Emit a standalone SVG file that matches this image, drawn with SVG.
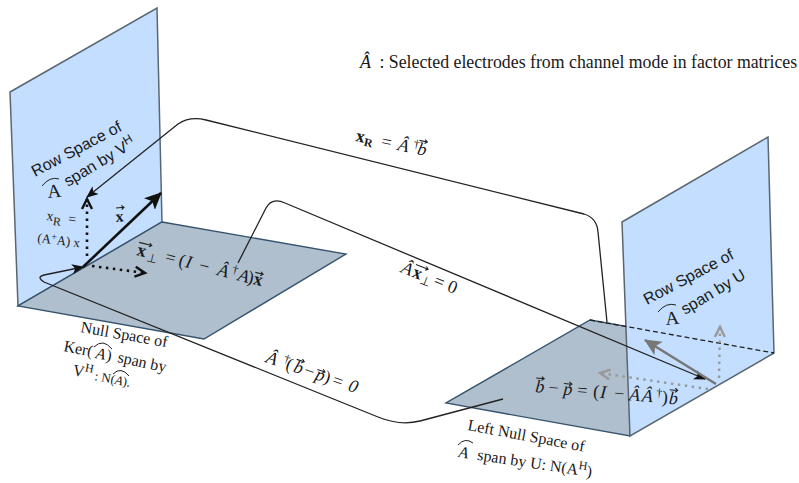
<svg xmlns="http://www.w3.org/2000/svg" width="799" height="483" viewBox="0 0 799 483">
<style>
text{fill:#1a1a1a}
.s{font-family:"Liberation Sans",Arial,sans-serif;font-size:16px}
.t{font-family:"Liberation Serif","Times New Roman",serif;font-size:16px}
.m{font-family:"Liberation Serif","Times New Roman",serif;font-size:18px;font-style:italic}
.b{font-weight:bold;font-style:normal}
.r{font-style:normal}
.sup{font-size:12px}
.sub{font-size:12px}
.wall{fill:#c3deff;stroke:#5a6670;stroke-width:1.5}
.floor{fill:#afbfcd;stroke:#35536e;stroke-width:1.4}
.c{fill:none;stroke:#222;stroke-width:1.3}
.acc{fill:none;stroke:#222;stroke-width:1}
.vec{fill:none;stroke:#222;stroke-width:1.1}
</style>
<defs>
<path id="v8" d="M0 0H8M5.5 -2L8 0L5.5 2"/>
<path id="v13" d="M0 0H13M10.5 -2L13 0L10.5 2"/>
<marker id="tip" markerWidth="12" markerHeight="10" refX="11" refY="5" orient="auto" markerUnits="userSpaceOnUse" viewBox="0 0 12 10"><path d="M0 0L12 5L0 10L3 5Z" fill="#111"/></marker>
<marker id="big" markerWidth="18" markerHeight="16" refX="16" refY="8" orient="auto" markerUnits="userSpaceOnUse" viewBox="0 0 18 16"><path d="M0 0L17 8L0 16L4 8Z" fill="#111"/></marker>
<marker id="gbig" markerWidth="18" markerHeight="16" refX="16" refY="8" orient="auto" markerUnits="userSpaceOnUse" viewBox="0 0 18 16"><path d="M0 0L17 8L0 16L4 8Z" fill="#777"/></marker>
<marker id="open" markerWidth="14" markerHeight="14" refX="11" refY="6" orient="auto" markerUnits="userSpaceOnUse" viewBox="0 0 14 12"><path d="M1 1L11 6L1 11" fill="none" stroke="#111" stroke-width="2.4"/></marker>
<marker id="gopen" markerWidth="14" markerHeight="14" refX="11" refY="6" orient="auto" markerUnits="userSpaceOnUse" viewBox="0 0 14 12"><path d="M1 1L11 6L1 11" fill="none" stroke="#999" stroke-width="2.4"/></marker>
</defs>

<g id="left-plane"><path class="wall" d="M10 92L157 8L162 222L18 306Z"/></g>
<g id="left-floor"><path class="floor" d="M162 222L346 254L204 339L18 306Z"/></g>
<g id="right-floor"><path class="floor" d="M590 320L630 327L630 436L446 403Z"/></g>
<g id="right-plane"><path class="wall" d="M622 222L768 137L774 353L630 436Z"/>
<path d="M590 320L774 353" fill="none" stroke="#222" stroke-width="1.3" stroke-dasharray="5 3"/></g>

<g id="connectors">
<path class="c" marker-end="url(#tip)" d="M607 322L598 232Q597 218 584 214L206 120Q190 116 178 124L87 197"/>
<path class="c" marker-end="url(#tip)" d="M238 263L266 208Q272 197 285 203L705 379"/>
<path class="c" marker-end="url(#tip)" d="M503 399L420 421Q400 426 378 417L44 282Q36 277 44 275L83 267"/>
<path d="M83 267L161 193" fill="none" stroke="#111" stroke-width="2.6" marker-end="url(#big)"/>
<path d="M87 256L87 199" fill="none" stroke="#111" stroke-width="2.6" stroke-dasharray="2.5 4.5" marker-end="url(#open)"/>
<path d="M92 266L145 273" fill="none" stroke="#111" stroke-width="2.6" stroke-dasharray="2.5 4.5" marker-end="url(#open)"/>
<path d="M716 384L645 340" fill="none" stroke="#777" stroke-width="2.6" marker-end="url(#gbig)"/>
<path d="M719 378L720 327" fill="none" stroke="#999" stroke-width="2.4" stroke-dasharray="2.5 4.5" marker-end="url(#gopen)"/>
<path d="M708 389L600 373" fill="none" stroke="#999" stroke-width="2.4" stroke-dasharray="2.5 4.5" marker-end="url(#gopen)"/>
</g>

<g id="legend"><text class="t" x="360" y="68" style="font-size:17.8px"><tspan class="m">Â</tspan><tspan x="375"> : Selected electrodes from channel mode in factor matrices</tspan></text></g>

<g id="label-row-left">
<text class="s" transform="translate(35 177) rotate(-28)">Row Space of</text>
<text class="s" transform="translate(68 187) rotate(-31)">span by V<tspan class="sup" dy="-6">H</tspan></text>
<text class="t" transform="translate(48 198) rotate(-6)" style="font-size:19px">A</text>
<path class="acc" d="M42 186Q50 176 59 179"/>
</g>
<g id="label-xr-left"><text class="t" transform="translate(46 220) rotate(8)" style="font-size:14px">x<tspan style="font-size:12px" dy="4">R</tspan><tspan dy="-4" dx="7">=</tspan></text>
<text class="t" transform="translate(37 242) rotate(7)" style="font-size:13px">(A<tspan dy="-4" style="font-size:10px">+</tspan><tspan dy="4">A) x</tspan></text></g>
<g id="label-x"><text class="m b" transform="translate(116 222) rotate(-5)" style="font-size:16px">x</text>
<use href="#v8" class="vec" transform="translate(116 208) rotate(-5)"/></g>

<g id="label-x-perp" transform="translate(136 255) rotate(14)">
<text class="m"><tspan class="b">x</tspan><tspan class="sub r" x="11" dy="3">⊥</tspan><tspan x="29" dy="-3" class="r">=</tspan><tspan x="43" class="r">(</tspan><tspan x="50">I</tspan><tspan x="64" class="r">−</tspan><tspan x="83">Â</tspan><tspan x="97" dy="-6" class="sup r">†</tspan><tspan x="104" dy="6">A</tspan><tspan x="114" class="r">)</tspan><tspan x="120" class="b">x</tspan></text>
<use href="#v13" class="vec" transform="translate(0 -13)"/><use href="#v8" class="vec" transform="translate(120 -12)"/>
</g>
<g id="label-xr" transform="translate(355 141) rotate(12)">
<text class="m"><tspan class="b">x</tspan><tspan class="b" x="9" dy="3" style="font-size:12px">R</tspan><tspan x="26" dy="-3" class="r">=</tspan><tspan x="43">Â</tspan><tspan x="58" dy="-6" class="sup r">†</tspan><tspan x="63" dy="6">b</tspan></text>
<use href="#v8" class="vec" transform="translate(63 -14)"/>
</g>
<g id="label-ax" transform="translate(400 272) rotate(22)">
<text class="m">Â<tspan class="b" x="12">x</tspan><tspan class="sub r" x="22" dy="3">⊥</tspan><tspan x="35" dy="-3" class="r">=</tspan><tspan x="50" class="r">0</tspan></text>
<use href="#v13" class="vec" transform="translate(12 -13)"/>
</g>
<g id="label-abp" transform="translate(265 362) rotate(19)">
<text class="m">Â<tspan x="17" dy="-6" class="sup r">†</tspan><tspan x="21" dy="6" class="r">(</tspan><tspan x="29">b</tspan><tspan x="40" class="r">−</tspan><tspan x="52">p</tspan><tspan x="61" class="r">)</tspan><tspan x="70" class="r">=</tspan><tspan x="87">0</tspan></text>
<use href="#v8" class="vec" transform="translate(29 -13)"/><use href="#v8" class="vec" transform="translate(52 -10)"/>
</g>
<g id="label-bp" transform="translate(535 392) rotate(5)">
<text class="m">b<tspan x="13" class="r">−</tspan><tspan x="28">p</tspan><tspan x="42" class="r">=</tspan><tspan x="58" class="r">(</tspan><tspan x="65">I</tspan><tspan x="79" class="r">−</tspan><tspan x="94">Â</tspan><tspan x="107">Â</tspan><tspan x="121" dy="-6" class="sup r">†</tspan><tspan x="127" dy="6" class="r">)</tspan><tspan x="134">b</tspan></text>
<use href="#v8" class="vec" transform="translate(0 -14)"/><use href="#v8" class="vec" transform="translate(28 -11)"/><use href="#v8" class="vec" transform="translate(134 -14)"/>
</g>

<g id="label-null">
<text class="t" transform="translate(80 332) rotate(10)">Null Space of</text>
<text class="t" transform="translate(63 351) rotate(11)">Ker(</text>
<text class="t" transform="translate(95 358) rotate(11)"><tspan font-style="italic">A</tspan><tspan dx="1">)</tspan></text>
<text class="t" transform="translate(117 362) rotate(12)">span by</text>
<text class="t" transform="translate(72 375) rotate(11)">V<tspan class="sup" dy="-6">H</tspan></text>
<text class="t" transform="translate(94 380) rotate(11)" style="font-size:13px">: N(<tspan font-style="italic">A</tspan>).</text>
<path class="acc" d="M94 347Q103 338 112 349"/>
<path class="acc" d="M113 374Q121 366 129 376"/>
</g>
<g id="label-row-right">
<text class="s" transform="translate(647 305) rotate(-28)">Row Space of</text>
<text class="s" transform="translate(685 315) rotate(-31)">span by U</text>
<text class="t" transform="translate(666 325) rotate(-6)" style="font-size:19px">A</text>
<path class="acc" d="M658 312Q666 302 676 305"/>
</g>
<g id="label-left-null">
<text class="t" transform="translate(467 430) rotate(10.5)">Left Null Space of</text>
<text class="t" transform="translate(458 457) rotate(8.5)"><tspan font-style="italic">A</tspan><tspan x="19">span by U: N(A</tspan><tspan class="sup" dy="-6">H</tspan><tspan dy="6">)</tspan></text>
<path class="acc" d="M458 445Q465 437 473 443"/>
</g>
</svg>
